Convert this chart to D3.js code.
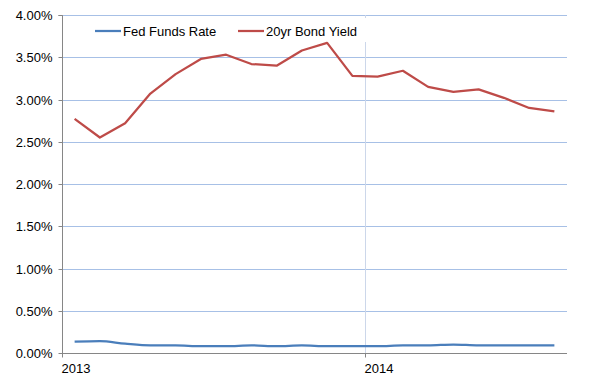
<!DOCTYPE html>
<html><head><meta charset="utf-8">
<script src="https://cdn.jsdelivr.net/npm/d3@7"></script>
<style>body{margin:0;background:#fff}svg{display:block}text{font-family:"Liberation Sans",Arial,sans-serif;font-size:13px;fill:#000}</style>
</head><body><svg id="c" width="598" height="379"></svg>
<script>
const months = ["2013-01","2013-02","2013-03","2013-04","2013-05","2013-06","2013-07","2013-08","2013-09","2013-10","2013-11","2013-12","2014-01","2014-02","2014-03","2014-04","2014-05","2014-06","2014-07","2014-08"];
const fedFunds = [0.134,0.14,0.11,0.09,0.09,0.08,0.08,0.09,0.08,0.09,0.08,0.08,0.08,0.09,0.09,0.10,0.09,0.09,0.09,0.09];
const bondYield = [2.77,2.55,2.72,3.07,3.30,3.48,3.53,3.42,3.40,3.58,3.67,3.28,3.27,3.34,3.15,3.09,3.12,3.02,2.90,2.86];
const yTicks = [0,0.5,1,1.5,2,2.5,3,3.5,4];
const xTickLabels = ["2013","2014"];
const seriesNames = ["Fed Funds Rate","20yr Bond Yield"];
const colors = ["#4a7ebb","#be4b48"];

const svg = d3.select("#c");
const L=62,R=567,T=15,B=353;
const x = d3.scaleBand().domain(months).range([L,R]);
const y = d3.scaleLinear().domain([0,4]).range([B,T]);

// horizontal grid
svg.append("g").selectAll("line").data(yTicks.slice(1)).join("line")
  .attr("x1",L).attr("x2",R).attr("y1",d=>Math.round(y(d))+0.5).attr("y2",d=>Math.round(y(d))+0.5)
  .attr("stroke","#a7c0e6").attr("stroke-width",1);

// vertical grid at year boundaries
const yearStarts = xTickLabels.map(t=>t+"-01");
svg.append("g").selectAll("line").data(yearStarts.slice(1)).join("line")
  .attr("x1",d=>Math.floor(x(d))+0.5).attr("x2",d=>Math.floor(x(d))+0.5).attr("y1",T).attr("y2",B)
  .attr("stroke","#ccd7ea").attr("stroke-width",1);

// legend background
svg.append("rect").attr("x",88).attr("y",18).attr("width",290).attr("height",24).attr("fill","#fff");

// y axis
const yAxis = d3.axisLeft(y).tickValues(yTicks).tickSize(4).tickPadding(6).tickFormat(d=>d.toFixed(2)+"%");
const gy = svg.append("g").attr("transform",`translate(${L+0.5},0)`).call(yAxis);
gy.select(".domain").attr("stroke","#868686").attr("d",`M-4,${T+0.5}H0V${B+0.5}`);
gy.selectAll(".tick line").attr("stroke","#868686");
gy.selectAll(".tick").attr("transform",d=>`translate(0,${Math.round(y(d))+0.5})`);
gy.selectAll("text").attr("font-size",13).attr("font-family","Liberation Sans, Arial, sans-serif").attr("fill","#000");

// x axis
const gx = svg.append("g").attr("transform",`translate(0,${B+0.5})`);
gx.append("line").attr("x1",L).attr("x2",R).attr("y1",0).attr("y2",0).attr("stroke","#868686");
const xt = gx.selectAll("g.t").data(xTickLabels).join("g").attr("class","t")
  .attr("transform",d=>`translate(${Math.floor(x(d+"-01"))+0.5},0)`);
xt.append("line").attr("y1",0).attr("y2",4).attr("stroke","#868686");
xt.append("text").attr("x",-1).attr("y",19).attr("text-anchor","start").text(d=>d);

// lines
const series=[fedFunds,bondYield];
const line = d3.line().x((d,i)=>x(months[i])+x.bandwidth()/2).y(d=>y(d));
series.forEach((s,k)=>{
  svg.append("path").datum(s).attr("d",line.curve(k===0?d3.curveMonotoneX:d3.curveLinear))
    .attr("fill","none").attr("stroke",colors[k]).attr("stroke-width",2.25).attr("stroke-linejoin","round");
});

// legend
const lx=[95,238];
seriesNames.forEach((n,k)=>{
  svg.append("line").attr("x1",lx[k]).attr("x2",lx[k]+26).attr("y1",31).attr("y2",31).attr("stroke",colors[k]).attr("stroke-width",2.25);
  svg.append("text").attr("x",lx[k]+28).attr("y",35.5).text(n);
});
</script></body></html>
